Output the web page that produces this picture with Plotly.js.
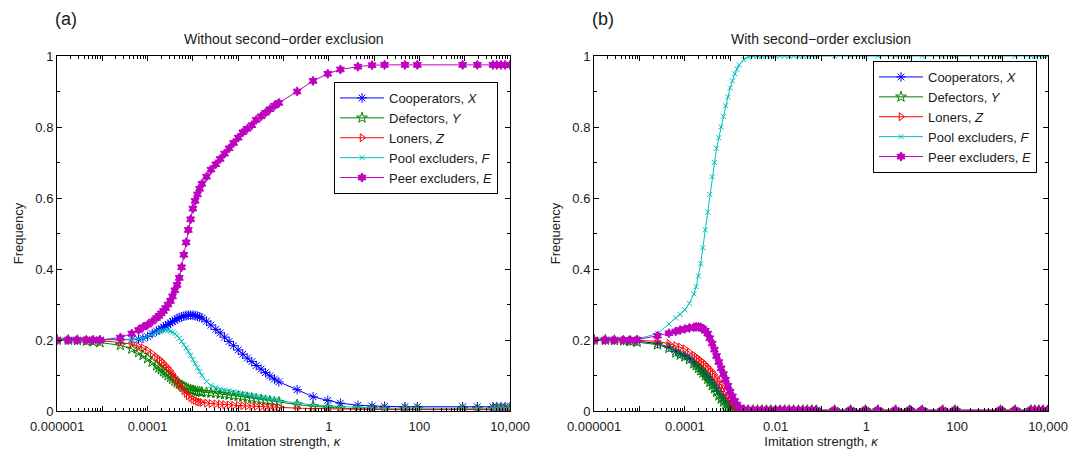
<!DOCTYPE html>
<html>
<head>
<meta charset="utf-8">
<script src="https://cdn.plot.ly/plotly-3.0.1.min.js"></script>
<style>html,body{margin:0;padding:0;background:#fff;}#chart{width:1084px;height:452px;}</style>
</head>
<body>
<div id="chart"></div>
<script>
// imitation strength grid (kappa)
const kappa = [1e-6, 1.78e-6, 2.82e-6, 4.47e-6, 6.31e-6, 8.91e-6, 2.51e-5, 4.47e-5,
  6.3e-5, 7.9e-5, 1e-4, 1.26e-4, 1.58e-4,
  1.78e-4, 2e-4, 2.24e-4, 2.5e-4, 2.82e-4, 3.2e-4, 3.55e-4, 4e-4, 4.47e-4, 5e-4,
  5.62e-4, 6.3e-4, 7.08e-4, 7.9e-4, 8.91e-4, 1e-3, 1.12e-3, 1.26e-3, 1.41e-3, 1.58e-3,
  2e-3, 2.5e-3, 3.2e-3, 4e-3, 5e-3, 6.3e-3, 7.9e-3, 0.01, 0.0126, 0.0158, 0.02, 0.025,
  0.032, 0.04, 0.05, 0.063, 0.079,
  0.2, 0.45, 0.95, 1.8, 4.4, 9, 17, 48, 90, 900, 1900, 4200, 5100, 6300, 7800, 10000];

// Panel (a): without second-order exclusion
const coopA = [0.2,0.2,0.2,0.2,0.2,0.2,0.2,0.201,
  0.202,0.205,0.21,0.218,0.225,
  0.228,0.232,0.236,0.24,0.244,0.248,0.252,0.256,0.26,0.263,
  0.265,0.267,0.269,0.27,0.27,0.27,0.269,0.267,0.265,0.262,
  0.253,0.242,0.23,0.22,0.208,0.196,0.184,0.172,0.16,0.149,0.139,0.128,
  0.118,0.108,0.099,0.09,0.082,
  0.06,0.04,0.03,0.022,0.016,0.014,0.013,0.012,0.012,0.012,0.012,0.012,0.012,0.012,0.012,0.012];
const defA = [0.2,0.2,0.199,0.197,0.195,0.193,0.185,0.175,
  0.165,0.157,0.148,0.138,0.128,
  0.122,0.117,0.111,0.106,0.1,0.095,0.09,0.085,0.08,0.076,
  0.072,0.068,0.065,0.062,0.06,0.058,0.056,0.055,0.054,0.053,
  0.052,0.051,0.05,0.048,0.047,0.045,0.043,0.042,0.04,0.038,0.036,0.034,
  0.032,0.03,0.028,0.026,0.025,
  0.018,0.013,0.01,0.008,0.006,0.005,0.005,0.005,0.005,0.005,0.005,0.005,0.005,0.005,0.005,0.005];
const lonA = [0.2,0.2,0.2,0.199,0.199,0.198,0.193,0.188,
  0.182,0.178,0.171,0.162,0.152,
  0.147,0.141,0.135,0.128,0.121,0.113,0.104,0.095,0.085,0.075,
  0.066,0.057,0.05,0.043,0.038,0.033,0.03,0.027,0.025,0.024,
  0.022,0.021,0.02,0.019,0.018,0.017,0.016,0.016,0.015,0.014,0.014,0.013,
  0.012,0.012,0.011,0.011,0.01,
  0.008,0.007,0.006,0.005,0.004,0.004,0.004,0.004,0.004,0.004,0.004,0.004,0.004,0.004,0.004,0.004];
const poolA = [0.2,0.2,0.2,0.2,0.2,0.2,0.2,0.201,
  0.203,0.205,0.21,0.215,0.222,
  0.224,0.226,0.227,0.228,0.227,0.225,0.222,0.218,0.212,0.205,
  0.196,0.187,0.178,0.168,0.157,0.145,0.133,0.122,0.111,0.1,
  0.083,0.072,0.066,0.062,0.059,0.056,0.054,0.051,0.048,0.046,0.043,0.041,
  0.038,0.036,0.033,0.031,0.029,
  0.022,0.017,0.014,0.012,0.01,0.009,0.008,0.008,0.008,0.008,0.008,0.008,0.008,0.008,0.008,0.008];
const peerA = [0.2,0.2,0.2,0.2,0.2,0.2,0.207,0.218,
  0.228,0.236,0.243,0.252,0.262,
  0.268,0.275,0.282,0.29,0.3,0.31,0.323,0.34,0.355,0.375,
  0.405,0.44,0.475,0.51,0.54,0.57,0.592,0.61,0.626,0.64,
  0.66,0.68,0.695,0.71,0.725,0.74,0.755,0.77,0.785,0.795,0.805,0.82,
  0.83,0.84,0.85,0.86,0.868,
  0.9,0.93,0.95,0.962,0.97,0.974,0.975,0.975,0.975,0.975,0.975,0.975,0.975,0.975,0.975,0.975];

// Panel (b): with second-order exclusion
const coopB = [0.2,0.2,0.2,0.199,0.198,0.197,0.19,0.18,
  0.168,0.162,0.156,0.148,0.138,
  0.132,0.126,0.119,0.112,0.105,0.097,0.089,0.081,0.073,0.064,
  0.055,0.046,0.037,0.029,0.022,0.015,0.011,0.007,0.005,0.004,
  0.003,0.002,0.002,0.002,0.002,0.002,0.002,0.002,0.002,0.002,0.002,0.002,
  0.002,0.002,0.002,0.002,0.002,
  0.002,0.002,0.002,0.002,0.002,0.002,0.002,0.002,0.002,0.002,0.002,0.002,0.002,0.002,0.002,0.002];
const defB = [0.2,0.2,0.199,0.198,0.196,0.194,0.187,0.177,
  0.164,0.158,0.153,0.145,0.134,
  0.128,0.121,0.114,0.107,0.099,0.09,0.081,0.072,0.063,0.053,
  0.043,0.034,0.026,0.018,0.012,0.008,0.006,0.004,0.003,0.003,
  0.002,0.002,0.002,0.002,0.002,0.002,0.002,0.002,0.002,0.002,0.002,0.002,
  0.002,0.002,0.002,0.002,0.002,
  0.002,0.002,0.002,0.002,0.002,0.002,0.002,0.002,0.002,0.002,0.002,0.002,0.002,0.002,0.002,0.002];
const lonB = [0.2,0.2,0.2,0.2,0.2,0.199,0.196,0.19,
  0.184,0.18,0.175,0.166,0.157,
  0.152,0.147,0.142,0.137,0.131,0.124,0.117,0.11,0.102,0.093,
  0.084,0.074,0.064,0.053,0.042,0.032,0.023,0.015,0.01,0.006,
  0.003,0.002,0.002,0.002,0.002,0.002,0.002,0.002,0.002,0.002,0.002,0.002,
  0.002,0.002,0.002,0.002,0.002,
  0.002,0.002,0.002,0.002,0.002,0.002,0.002,0.002,0.002,0.002,0.002,0.002,0.002,0.002,0.002,0.002];
const poolB = [0.2,0.2,0.2,0.2,0.201,0.203,0.218,0.245,
  0.262,0.272,0.285,0.303,0.33,
  0.35,0.38,0.415,0.46,0.51,0.56,0.61,0.66,0.7,0.74,
  0.77,0.8,0.83,0.86,0.885,0.91,0.93,0.95,0.963,0.975,
  0.99,0.997,0.999,1,1,1,1,1,1,1,1,1,
  1,1,1,1,1,
  1,1,1,1,1,1,1,1,1,1,1,1,1,1,1,1];
const peerB = [0.2,0.2,0.2,0.2,0.2,0.201,0.212,0.219,
  0.224,0.228,0.231,0.234,0.236,
  0.237,0.237,0.236,0.232,0.226,0.218,0.205,0.19,0.173,0.155,
  0.138,0.12,0.104,0.088,0.071,0.055,0.041,0.028,0.018,0.01,
  0.004,0.003,0.002,0.002,0.002,0.002,0.002,0.002,0.002,0.002,0.002,0.002,
  0.002,0.002,0.002,0.002,0.002,
  0.002,0.002,0.002,0.002,0.002,0.002,0.002,0.002,0.002,0.002,0.002,0.002,0.002,0.002,0.002,0.002];

const seriesNames = ['Cooperators, <i>X</i>', 'Defectors, <i>Y</i>', 'Loners, <i>Z</i>',
  'Pool excluders, <i>F</i>', 'Peer excluders, <i>E</i>'];
const colors = ['#0000ff', '#008000', '#ff0000', '#00bfbf', '#bf00bf'];
const symbols = ['asterisk-open', 'star-open', 'triangle-right-open', 'x-thin-open', 'hexagram'];
const sizes = [8, 8, 7, 5, 7];
const mlw = [1, 1, 1, 1, 1];

const xTickVals = [1e-6,1e-5,1e-4,1e-3,1e-2,1e-1,1,10,100,1000,10000];
const xTickText = ['0.000001','','0.0001','','0.01','','1','','100','','10,000'];
const yTickVals = [0,0.2,0.4,0.6,0.8,1];
const yTickText = ['0','0.2','0.4','0.6','0.8','1'];

const minorX = [];
for (let e = -6; e < 4; e++) for (let m = 2; m <= 9; m++) minorX.push(m * Math.pow(10, e));

const panels = [
  {data: [coopA, defA, lonA, poolA, peerA], xa: 'x', ya: 'y', legend: 'legend'},
  {data: [coopB, defB, lonB, poolB, peerB], xa: 'x2', ya: 'y2', legend: 'legend2'}
];
const traces = [];
panels.forEach(p => {
  p.data.forEach((ys, i) => {
    traces.push({
      type: 'scatter', mode: 'lines+markers', x: kappa, y: ys,
      xaxis: p.xa, yaxis: p.ya, name: seriesNames[i], legend: p.legend,
      line: {color: colors[i], width: 1},
      marker: {symbol: symbols[i], size: sizes[i], color: colors[i],
        line: {color: colors[i], width: mlw[i]}}
    });
  });
});

const W = 1084, H = 452;
const fontFam = '"Liberation Sans", Arial, sans-serif';
const txt = '#1a1a1a';
function xax(d0, d1, anchor) {
  return {
    type: 'log', range: [-6, 4], domain: [d0 / W, d1 / W], anchor: anchor,
    tickmode: 'array', tickvals: xTickVals, ticktext: xTickText,
    ticks: 'inside', ticklen: 5, tickwidth: 1, tickcolor: '#000',
    minor: {tickmode: 'array', tickvals: minorX, ticks: 'inside', ticklen: 3, tickcolor: '#000'},
    showline: true, linecolor: '#000', linewidth: 1, mirror: 'ticks',
    showgrid: false, zeroline: false, ticklabelstandoff: 3,
    tickfont: {size: 13, color: txt},
    title: {text: 'Imitation strength, <i>κ</i>', font: {size: 13, color: txt}, standoff: 3}
  };
}
function yax(anchor) {
  return {
    range: [0, 1], domain: [1 - 411 / H, 1 - 56 / H], anchor: anchor,
    tickmode: 'array', tickvals: yTickVals, ticktext: yTickText,
    ticks: 'inside', ticklen: 5, tickwidth: 1, tickcolor: '#000',
    minor: {dtick: 0.1, ticks: 'inside', ticklen: 3, tickcolor: '#000'},
    showline: true, linecolor: '#000', linewidth: 1, mirror: 'ticks',
    showgrid: false, zeroline: false,
    tickfont: {size: 13, color: txt},
    title: {text: 'Frequency', font: {size: 13, color: txt}, standoff: 8}
  };
}
const legendStyle = (x, y) => ({
  x: x / W, y: 1 - y / H, xanchor: 'left', yanchor: 'top',
  bgcolor: '#fff', bordercolor: '#000', borderwidth: 1, itemwidth: 44,
  font: {family: fontFam, size: 13, color: txt}, tracegroupgap: 0
});

const layout = {
  width: W, height: H, margin: {l: 0, r: 0, t: 0, b: 0},
  paper_bgcolor: '#fff', plot_bgcolor: '#fff',
  font: {family: fontFam, size: 13, color: txt},
  xaxis: xax(57, 510, 'y'), yaxis: yax('x'),
  xaxis2: xax(594, 1048, 'y2'), yaxis2: yax('x2'),
  legend: legendStyle(334, 82), legend2: legendStyle(873, 61),
  annotations: [
    {text: '(a)', x: 53 / W, y: 1 - 19 / H, xref: 'paper', yref: 'paper', xanchor: 'left', yanchor: 'middle', showarrow: false, font: {size: 18}},
    {text: '(b)', x: 590 / W, y: 1 - 19 / H, xref: 'paper', yref: 'paper', xanchor: 'left', yanchor: 'middle', showarrow: false, font: {size: 18}},
    {text: 'Without second\u2212order exclusion', x: 283.5 / W, y: 1 - 39 / H, xref: 'paper', yref: 'paper', xanchor: 'center', yanchor: 'middle', showarrow: false, font: {size: 14}},
    {text: 'With second\u2212order exclusion', x: 821 / W, y: 1 - 39 / H, xref: 'paper', yref: 'paper', xanchor: 'center', yanchor: 'middle', showarrow: false, font: {size: 14}}
  ]
};

Plotly.newPlot('chart', traces, layout, {displayModeBar: false, staticPlot: true});
</script>
</body>
</html>
